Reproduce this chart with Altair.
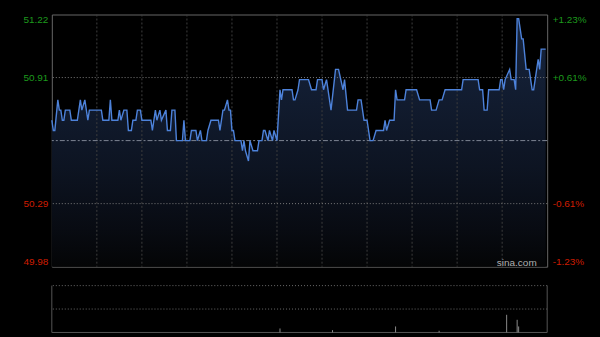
import altair as alt
import pandas as pd

# ---- data (minutes since open, HK session 330 min) ----
minutes = [0, 1, 2, 4, 5, 6, 7, 8, 9, 12, 13, 17, 19, 20, 22, 24, 25, 33, 34, 38,
           39, 40, 44, 45, 46, 48, 50, 51, 53, 54, 56, 57, 59, 60, 66, 67, 69, 70, 72, 73,
           76, 77, 79, 80, 82, 83, 87, 88, 89, 92, 93, 96, 97, 99, 100, 103, 104, 106, 111, 112,
           114, 115, 117, 118, 119, 120, 121, 122, 126, 127, 128, 129, 131, 132, 134, 137, 138, 140, 141, 142,
           144, 145, 147, 148, 150, 152, 153, 154, 160, 161, 162, 164, 165, 171, 173, 176, 177, 180, 181, 183,
           186, 189, 191, 194, 195, 197, 203, 204, 206, 208, 210, 212, 214, 216, 221, 222, 223, 225, 228, 229,
           230, 235, 236, 243, 245, 252, 253, 256, 258, 260, 262, 273, 274, 284, 285, 287, 288, 290, 291, 298,
           299, 300, 301, 302, 305, 306, 308, 309, 310, 311, 313, 314, 316, 318, 320, 321, 323, 324, 325, 326,
           329]
prices = [50.70, 50.65, 50.65, 50.80, 50.75, 50.75, 50.70, 50.70, 50.75, 50.75, 50.70, 50.70, 50.80, 50.75, 50.80, 50.70, 50.75, 50.75, 50.70, 50.70,
          50.80, 50.70, 50.70, 50.75, 50.70, 50.75, 50.75, 50.65, 50.65, 50.70, 50.70, 50.75, 50.75, 50.70, 50.70, 50.65, 50.75, 50.70, 50.75, 50.70,
          50.75, 50.65, 50.65, 50.75, 50.75, 50.60, 50.60, 50.70, 50.60, 50.60, 50.65, 50.65, 50.60, 50.65, 50.60, 50.60, 50.65, 50.70, 50.70, 50.65,
          50.75, 50.75, 50.80, 50.75, 50.75, 50.65, 50.65, 50.60, 50.60, 50.55, 50.60, 50.55, 50.50, 50.60, 50.55, 50.55, 50.60, 50.60, 50.65, 50.65,
          50.60, 50.65, 50.60, 50.65, 50.60, 50.85, 50.80, 50.85, 50.85, 50.80, 50.80, 50.85, 50.90, 50.90, 50.85, 50.85, 50.90, 50.90, 50.85, 50.90,
          50.75, 50.95, 50.95, 50.85, 50.90, 50.75, 50.75, 50.80, 50.80, 50.70, 50.70, 50.60, 50.60, 50.65, 50.65, 50.70, 50.65, 50.70, 50.70, 50.85,
          50.80, 50.80, 50.85, 50.85, 50.80, 50.80, 50.75, 50.75, 50.80, 50.80, 50.85, 50.85, 50.90, 50.90, 50.85, 50.85, 50.75, 50.75, 50.85, 50.85,
          50.90, 50.90, 50.85, 50.90, 50.95, 50.90, 50.90, 50.85, 51.20, 51.20, 51.10, 51.10, 50.95, 50.95, 50.85, 50.85, 50.95, 51.00, 50.95, 51.05,
          51.05]

prev_close = 50.60
y_min, y_max = 49.98, 51.22
y_ticks = [49.98, 50.29, 50.91, 51.22]
h_grid = [50.29, 50.91]
v_grid = [30, 60, 90, 120, 150, 180, 210, 240, 270, 300]

vol_minutes = [152, 187, 229, 258, 303, 310, 311]
vol_values = [8.5, 5.0, 12.8, 3.6, 37.7, 27.0, 12.8]
vol_grid = [50, 100]

price_df = pd.DataFrame({"minute": minutes, "price": prices})
vol_df = pd.DataFrame({"minute": vol_minutes, "vol": vol_values})

GREEN = "#1d9a1d"
RED = "#cf1d00"
FONT = "Liberation Sans"

x_scale = alt.Scale(domain=[0, 330], nice=False, zero=False)
y_scale = alt.Scale(domain=[y_min, y_max], nice=False, zero=False)
v_scale = alt.Scale(domain=[0, 100], nice=False)

label_color = {"condition": {"test": f"datum.value > {prev_close}", "value": GREEN}, "value": RED}

left_axis = alt.Axis(orient="left", values=y_ticks, format=".2f", labelColor=label_color,
                     labelFont=FONT, labelFontSize=10, labelPadding=4, ticks=False,
                     domain=False, grid=False, labelFlush=True, minExtent=45, maxExtent=45,
                     title=None)
right_axis = alt.Axis(orient="right", values=y_ticks, labelColor=label_color,
                      labelExpr=f"(datum.value > {prev_close} ? '+' : '-') + format(abs(datum.value - {prev_close}) / {prev_close} * 100, '.2f') + '%'",
                      labelFont=FONT, labelFontSize=10, labelPadding=5, ticks=False,
                      domain=False, grid=False, labelFlush=True, minExtent=45, maxExtent=45,
                      title=None)

X = alt.X("minute:Q", scale=x_scale, axis=None)

area = alt.Chart(price_df).mark_area(
    color=alt.Gradient(
        gradient="linear",
        stops=[alt.GradientStop(color="#17253f", offset=0),
               alt.GradientStop(color="#111b2e", offset=0.35),
               alt.GradientStop(color="#0d1422", offset=0.6),
               alt.GradientStop(color="#080b12", offset=0.85),
               alt.GradientStop(color="#040506", offset=1)],
        x1=1, x2=1, y1=0, y2=1),
).encode(x=X, y=alt.Y("price:Q", scale=y_scale, axis=left_axis), y2=alt.datum(y_min))

vrules = alt.Chart(pd.DataFrame({"minute": v_grid})).mark_rule(
    color="#3d3d3d", strokeDash=[2, 2], strokeWidth=1
).encode(x=X)

hrules = alt.Chart(pd.DataFrame({"price": h_grid})).mark_rule(
    color="#7a7a7a", strokeDash=[1, 2], strokeWidth=1
).encode(y=alt.Y("price:Q", scale=y_scale, axis=None))

mid = alt.Chart(pd.DataFrame({"price": [prev_close]})).mark_rule(
    color="#7d8593", strokeDash=[5, 2, 2, 2], strokeWidth=1
).encode(y=alt.Y("price:Q", scale=y_scale, axis=None))

line = alt.Chart(price_df).mark_line(color="#4d82da", strokeWidth=1.4).encode(
    x=X, y=alt.Y("price:Q", scale=y_scale, axis=right_axis)
)

mark_df = pd.DataFrame({"minute": [323], "price": [50.0], "label": ["sina.com"]})
watermark = alt.Chart(mark_df).mark_text(
    align="right", baseline="middle", color="#b0b0b0", fontSize=10, font=FONT
).encode(x=X, y=alt.Y("price:Q", scale=y_scale, axis=None), text="label:N")

main = alt.layer(area, vrules, hrules, mid, line, watermark).resolve_axis(
    y="independent"
).properties(width=497, height=253, view=alt.ViewBackground(stroke="#666", strokeWidth=1))

VX = alt.X("minute:Q", scale=x_scale, axis=None)
vol_bars = alt.Chart(vol_df).mark_rule(color="#8a8a8a", strokeWidth=1).encode(
    x=VX, y=alt.Y("vol:Q", scale=v_scale, axis=None), y2=alt.datum(0)
)
vol_grid_rules = alt.Chart(pd.DataFrame({"vol": vol_grid})).mark_rule(
    color="#6a6a6a", strokeDash=[1, 2], strokeWidth=1
).encode(y=alt.Y("vol:Q", scale=v_scale, axis=None))
vol_base = alt.Chart(pd.DataFrame({"vol": [0]})).mark_rule(color="#555", strokeWidth=1).encode(
    y=alt.Y("vol:Q", scale=v_scale, axis=None)
)
vol_sides = alt.Chart(pd.DataFrame({"minute": [0, 330]})).mark_rule(color="#555", strokeWidth=1).encode(x=VX)

volume = alt.layer(vol_grid_rules, vol_base, vol_sides, vol_bars).properties(
    width=497, height=47, view=alt.ViewBackground(stroke="transparent")
)

chart = alt.vconcat(main, volume, spacing=16).properties(
    background="black",
    padding={"left": 6, "top": 13, "right": 7, "bottom": 5},
).configure_view(stroke="transparent")

chart.save("out.html", embed_options={"renderer": "svg", "actions": False})
